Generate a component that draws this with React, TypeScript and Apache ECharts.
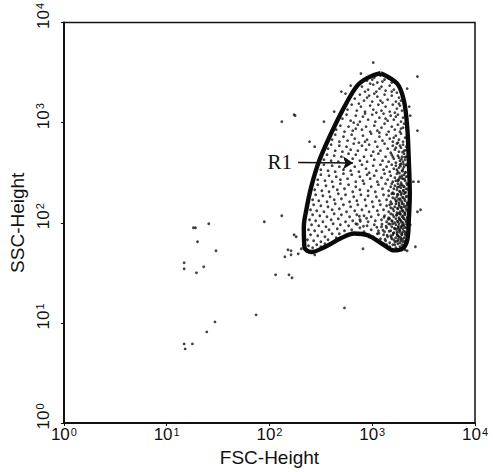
import React, { useEffect, useRef } from "react";
import * as echarts from "echarts";

// Axis decades (FSC-Height / SSC-Height, log scale)
const decadeExponents = [0, 1, 2, 3, 4];
const xAxisName = "FSC-Height";
const yAxisName = "SSC-Height";
const gateName = "R1";

// Gate R1 outline, [FSC, SSC]
const gateR1: number[][] = [
  [1210, 3120], [1750, 2450], [2030, 1670], [2190, 900], [2270, 420],
  [2320, 196], [2270, 106], [2190, 67], [1960, 55], [1625, 53],
  [1300, 60], [900, 75], [667, 78], [496, 70], [342, 57],
  [255, 51], [219, 57], [216, 91], [228, 133], [255, 228],
  [306, 420], [397, 776], [534, 1430], [719, 2355], [931, 2846],
];

// Arrow pointing into R1, [FSC, SSC]
const arrowFrom = [190, 400];
const arrowTo = [650, 395];

// Events inside / around the gate: log10(FSC), log10(SSC)
const gatedCellsLog: number[][] = [
  [2.95,3.42],[3.02,3.45],[3.08,3.47],[3.12,3.43],[3.05,3.40],[3.16,3.44],[2.98,3.39],[3.10,3.41],[3.19,3.40],[3.00,3.43],
  [2.90,3.36],[2.96,3.33],[3.01,3.38],[3.04,3.31],[3.09,3.36],[3.13,3.32],[3.17,3.37],[3.21,3.33],[3.24,3.30],[3.07,3.34],[2.93,3.31],[3.19,3.31],
  [2.83,3.24],[2.88,3.28],[2.92,3.22],[2.97,3.27],[3.00,3.21],[3.05,3.26],[3.08,3.22],[3.12,3.28],[3.15,3.23],[3.19,3.27],[3.23,3.21],[3.26,3.25],[3.28,3.22],[2.95,3.25],[3.10,3.20],[3.02,3.29],
  [2.76,3.13],[2.80,3.18],[2.85,3.12],[2.89,3.16],[2.93,3.11],[2.98,3.17],[3.01,3.13],[3.06,3.18],[3.09,3.12],[3.13,3.16],[3.17,3.11],[3.20,3.18],[3.24,3.14],[3.27,3.17],[3.29,3.12],[2.87,3.19],[3.04,3.10],[3.22,3.10],[3.26,3.19],
  [2.71,3.04],[2.75,3.08],[2.79,3.02],[2.84,3.07],[2.88,3.01],[2.91,3.06],[2.96,3.03],[3.00,3.08],[3.03,3.01],[3.07,3.05],[3.11,3.09],[3.15,3.02],[3.18,3.07],[3.21,3.03],[3.25,3.08],[3.28,3.01],[3.30,3.05],[2.82,3.00],[2.93,3.09],[3.13,3.04],[3.23,3.06],
  [2.65,2.93],[2.69,2.97],[2.73,2.91],[2.77,2.96],[2.81,2.92],[2.86,2.98],[2.90,2.93],[2.94,2.96],[2.98,2.91],[3.02,2.97],[3.05,2.92],[3.09,2.95],[3.12,2.99],[3.16,2.91],[3.19,2.96],[3.22,2.93],[3.25,2.98],[3.27,2.91],[3.30,2.95],[3.31,2.99],[2.84,2.94],[3.07,2.90],[3.28,2.94],
  [2.61,2.83],[2.64,2.88],[2.68,2.81],[2.72,2.86],[2.76,2.82],[2.80,2.88],[2.83,2.84],[2.87,2.80],[2.91,2.87],[2.95,2.83],[2.99,2.89],[3.03,2.81],[3.07,2.86],[3.10,2.82],[3.14,2.88],[3.17,2.84],[3.20,2.81],[3.23,2.87],[3.26,2.83],[3.28,2.89],[3.30,2.81],[3.32,2.85],[3.21,2.85],[3.25,2.80],[2.93,2.81],
  [2.57,2.74],[2.60,2.78],[2.64,2.72],[2.68,2.77],[2.71,2.71],[2.75,2.76],[2.79,2.73],[2.82,2.79],[2.86,2.72],[2.90,2.77],[2.94,2.73],[2.97,2.78],[3.01,2.71],[3.05,2.76],[3.08,2.72],[3.12,2.79],[3.15,2.74],[3.18,2.70],[3.20,2.77],[3.22,2.73],[3.24,2.79],[3.26,2.71],[3.28,2.75],[3.30,2.78],[3.31,2.72],[3.33,2.76],[3.27,2.77],[3.23,2.75],
  [2.53,2.63],[2.56,2.68],[2.60,2.62],[2.63,2.67],[2.67,2.61],[2.70,2.66],[2.74,2.63],[2.77,2.69],[2.81,2.64],[2.84,2.68],[2.88,2.62],[2.92,2.66],[2.95,2.61],[2.99,2.67],[3.02,2.63],[3.06,2.69],[3.10,2.62],[3.13,2.66],[3.16,2.61],[3.19,2.68],[3.21,2.64],[3.23,2.60],[3.25,2.67],[3.27,2.62],[3.29,2.66],[3.31,2.69],[3.32,2.63],[3.33,2.66],[3.26,2.65],[3.30,2.61],[3.20,2.66],
  [2.50,2.53],[2.53,2.58],[2.57,2.52],[2.61,2.57],[2.64,2.51],[2.68,2.56],[2.72,2.53],[2.76,2.59],[2.79,2.52],[2.83,2.56],[2.87,2.51],[2.90,2.58],[2.94,2.54],[2.97,2.50],[3.01,2.57],[3.04,2.52],[3.08,2.58],[3.11,2.53],[3.14,2.56],[3.17,2.51],[3.19,2.58],[3.21,2.54],[3.23,2.57],[3.25,2.51],[3.26,2.55],[3.28,2.59],[3.29,2.52],[3.31,2.56],[3.32,2.50],[3.33,2.58],[3.30,2.54],[3.27,2.58],[3.24,2.53],
  [2.47,2.43],[2.50,2.48],[2.54,2.42],[2.58,2.47],[2.61,2.41],[2.65,2.46],[2.69,2.43],[2.72,2.49],[2.76,2.44],[2.80,2.48],[2.84,2.41],[2.88,2.46],[2.91,2.42],[2.95,2.48],[2.98,2.44],[3.02,2.47],[3.05,2.41],[3.09,2.45],[3.12,2.49],[3.15,2.43],[3.18,2.47],[3.20,2.41],[3.22,2.45],[3.24,2.49],[3.25,2.42],[3.27,2.46],[3.28,2.40],[3.30,2.44],[3.31,2.48],[3.32,2.42],[3.33,2.46],[3.29,2.47],[3.26,2.44],[3.23,2.42],
  [2.44,2.33],[2.47,2.38],[2.51,2.32],[2.55,2.37],[2.58,2.31],[2.62,2.36],[2.66,2.33],[2.69,2.39],[2.73,2.34],[2.77,2.38],[2.81,2.31],[2.84,2.36],[2.88,2.33],[2.92,2.39],[2.96,2.32],[2.99,2.36],[3.03,2.31],[3.06,2.38],[3.10,2.34],[3.13,2.39],[3.16,2.32],[3.18,2.36],[3.20,2.30],[3.22,2.37],[3.24,2.33],[3.25,2.39],[3.27,2.31],[3.28,2.35],[3.29,2.38],[3.30,2.32],[3.31,2.36],[3.32,2.30],[3.33,2.34],[3.34,2.38],[3.26,2.36],[3.21,2.34],[3.19,2.39],
  [2.42,2.23],[2.45,2.28],[2.48,2.22],[2.52,2.27],[2.56,2.21],[2.59,2.26],[2.63,2.23],[2.67,2.29],[2.70,2.24],[2.74,2.28],[2.78,2.21],[2.82,2.26],[2.85,2.22],[2.89,2.28],[2.93,2.23],[2.96,2.27],[3.00,2.21],[3.04,2.26],[3.07,2.22],[3.11,2.28],[3.14,2.23],[3.16,2.27],[3.18,2.21],[3.20,2.25],[3.21,2.29],[3.23,2.22],[3.24,2.26],[3.26,2.20],[3.27,2.24],[3.28,2.28],[3.29,2.21],[3.30,2.25],[3.31,2.29],[3.32,2.22],[3.33,2.26],[3.34,2.20],[3.25,2.28],[3.22,2.24],[3.19,2.29],
  [2.40,2.13],[2.43,2.18],[2.46,2.12],[2.50,2.17],[2.53,2.11],[2.57,2.16],[2.61,2.13],[2.64,2.19],[2.68,2.14],[2.72,2.18],[2.75,2.11],[2.79,2.16],[2.83,2.12],[2.86,2.18],[2.90,2.13],[2.94,2.17],[2.97,2.11],[3.01,2.16],[3.05,2.12],[3.08,2.18],[3.11,2.13],[3.14,2.17],[3.16,2.11],[3.18,2.15],[3.19,2.19],[3.21,2.12],[3.22,2.16],[3.24,2.10],[3.25,2.14],[3.26,2.18],[3.27,2.11],[3.28,2.15],[3.29,2.19],[3.30,2.12],[3.31,2.16],[3.32,2.10],[3.33,2.14],[3.34,2.18],[3.23,2.19],[3.20,2.14],[3.17,2.18],[3.29,2.13],
  [2.39,2.03],[2.42,2.08],[2.45,2.02],[2.49,2.07],[2.52,2.01],[2.56,2.06],[2.60,2.03],[2.63,2.09],[2.67,2.04],[2.70,2.08],[2.74,2.01],[2.78,2.06],[2.81,2.02],[2.85,2.08],[2.88,2.03],[2.92,2.07],[2.96,2.01],[2.99,2.06],[3.03,2.02],[3.06,2.08],[3.09,2.03],[3.12,2.07],[3.14,2.01],[3.16,2.05],[3.18,2.09],[3.19,2.02],[3.21,2.06],[3.22,2.00],[3.23,2.04],[3.24,2.08],[3.25,2.01],[3.26,2.05],[3.27,2.09],[3.28,2.02],[3.29,2.06],[3.30,2.00],[3.31,2.04],[3.32,2.08],[3.33,2.01],[3.34,2.05],[3.20,2.08],[3.17,2.04],[3.27,2.03],[3.30,2.07],
  [2.38,1.93],[2.41,1.98],[2.44,1.92],[2.48,1.97],[2.51,1.91],[2.55,1.96],[2.58,1.93],[2.62,1.99],[2.66,1.94],[2.69,1.98],[2.73,1.92],[2.77,1.97],[2.80,1.93],[2.84,1.99],[2.88,1.95],[2.92,1.91],[2.95,1.97],[2.99,1.93],[3.02,1.98],[3.06,1.92],[3.09,1.96],[3.12,1.91],[3.14,1.95],[3.16,1.99],[3.18,1.92],[3.19,1.96],[3.21,1.90],[3.22,1.94],[3.23,1.98],[3.24,1.91],[3.25,1.95],[3.26,1.99],[3.27,1.92],[3.28,1.96],[3.29,1.90],[3.30,1.94],[3.31,1.98],[3.32,1.91],[3.33,1.95],[3.20,1.99],[3.26,1.93],[3.29,1.97],
  [2.37,1.83],[2.40,1.88],[2.43,1.82],[2.47,1.87],[2.50,1.81],[2.54,1.86],[2.57,1.83],[2.61,1.89],[2.65,1.85],[2.68,1.89],
  [2.97,1.88],[3.01,1.86],[3.05,1.89],[3.08,1.84],[3.11,1.88],[3.13,1.82],[3.15,1.86],[3.17,1.80],[3.19,1.84],[3.20,1.88],[3.22,1.81],[3.23,1.85],[3.24,1.89],[3.25,1.82],[3.26,1.86],[3.27,1.80],[3.28,1.84],[3.29,1.88],[3.30,1.81],[3.31,1.85],[3.32,1.89],[3.21,1.83],[3.25,1.87],[3.28,1.82],[3.18,1.87],
  [2.38,1.77],[2.42,1.75],[2.46,1.78],[2.50,1.76],[2.54,1.79],[3.14,1.78],[3.17,1.76],[3.20,1.78],[3.23,1.75],[3.25,1.79],[3.27,1.76],[3.29,1.78],[3.22,1.78],
];

// Extra events in the dark band along the right edge of R1 and the lower blobs: log10(FSC), log10(SSC)
const denseBandCellsLog: number[][] = [
  [3.235,1.815],[3.255,1.835],[3.275,1.855],[3.295,1.835],[3.315,1.815],[3.335,1.845],[3.245,1.875],[3.265,1.905],[3.285,1.885],[3.305,1.915],[3.325,1.875],[3.345,1.905],
  [3.235,1.935],[3.255,1.965],[3.275,1.945],[3.295,1.975],[3.315,1.955],[3.335,1.985],[3.245,2.015],[3.265,2.035],[3.285,2.005],[3.305,2.045],[3.325,2.025],[3.345,2.055],
  [3.235,2.075],[3.255,2.095],[3.275,2.085],[3.295,2.115],[3.315,2.095],[3.335,2.125],[3.245,2.145],[3.265,2.165],[3.285,2.155],[3.305,2.185],[3.325,2.165],[3.345,2.195],
  [3.235,2.215],[3.255,2.235],[3.275,2.225],[3.295,2.255],[3.315,2.235],[3.335,2.265],[3.245,2.285],[3.265,2.315],[3.285,2.295],[3.305,2.325],[3.325,2.305],[3.345,2.335],
  [3.245,2.355],[3.275,2.375],[3.305,2.365],[3.335,2.395],[3.255,2.425],[3.285,2.445],[3.315,2.435],[3.345,2.465],[3.265,2.495],[3.295,2.515],[3.325,2.505],
  [3.275,2.565],[3.305,2.585],[3.335,2.575],[3.285,2.635],[3.315,2.655],[3.295,2.705],[3.325,2.725],
  [3.125,1.835],[3.145,1.875],[3.165,1.915],[3.185,1.855],[3.205,1.895],[3.105,1.925],[3.135,1.965],[3.175,1.985],[3.215,1.945],[3.065,1.895],[3.095,1.985],[3.155,2.035],[3.195,2.015],[3.045,1.955],[3.115,2.055],
  [2.855,1.985],[2.885,2.015],[2.915,1.965],[2.945,2.045],[2.875,2.065],
];

// Events outside the gate: log10(FSC), log10(SSC)
const outlierCellsLog: number[][] = [
  [2.12,2.07],[1.95,2.01],[1.41,1.99],[1.26,1.95],[1.28,1.95],[1.30,1.81],[1.48,1.72],[2.26,1.86],[2.21,1.72],[2.28,1.69],
  [2.15,1.66],[1.17,1.60],[1.17,1.54],[1.29,1.50],[1.36,1.56],[2.06,1.48],[2.19,1.48],[2.22,1.45],[1.87,1.08],[1.47,1.01],
  [1.39,0.91],[1.17,0.79],[1.25,0.79],[1.18,0.74],[2.73,1.15],
  [3.01,3.60],[2.89,3.49],[3.44,3.46],[2.79,3.37],[2.70,3.31],[2.74,3.29],[2.25,3.07],[2.63,3.11],[2.53,3.01],[3.36,3.16],
  [3.37,3.07],[3.44,2.92],[2.39,2.81],[2.44,2.76],[2.58,2.86],[3.34,3.34],[2.12,3.01],[2.24,3.08],[3.40,2.41],[3.47,2.13],
  [2.24,1.88],[2.18,1.73],[2.21,1.68],[3.34,1.72],[2.31,1.74],[2.44,1.68],[2.91,1.74],[3.32,1.73],[3.42,1.76],[3.44,2.11],
  [3.45,2.41],[3.37,1.98],
];

const toValues = (pts: number[][]) => pts.map((p) => [Math.pow(10, p[0]), Math.pow(10, p[1])]);

const FONT = "'Liberation Sans', Arial, sans-serif";

export default function App() {
  const ref = useRef<HTMLDivElement>(null);
  useEffect(() => {
    document.body.style.margin = "0";
    const chart = echarts.init(ref.current!, null, { renderer: "svg" });
    const labelFormatter = (v: number) => {
      const e = Math.round(Math.log10(v));
      return decadeExponents.includes(e) ? `10{s|${e}}` : "";
    };
    const richSup = {
      s: { fontSize: 11, fontFamily: FONT, color: "#111", verticalAlign: "top", lineHeight: 10, padding: [0, 0, 6, 1] },
    };
    const gateLine = [...gateR1, gateR1[0]];
    const dot = { symbolSize: 2.8, itemStyle: { color: "#111" }, silent: true };
    chart.setOption({
      animation: false,
      backgroundColor: "#fff",
      grid: { left: 61, right: 18, top: 22, bottom: 49, show: true, borderColor: "#111", borderWidth: 1.5, backgroundColor: "transparent" },
      xAxis: {
        type: "log", logBase: 10, min: 1, max: 10000,
        name: xAxisName, nameLocation: "middle", nameGap: 21,
        nameTextStyle: { fontFamily: FONT, fontSize: 19, color: "#111" },
        axisLine: { lineStyle: { color: "#111", width: 2 } },
        axisTick: { show: true, length: 3, lineStyle: { color: "#111" } },
        splitLine: { show: false },
        axisLabel: { formatter: labelFormatter, fontFamily: FONT, fontSize: 17, color: "#111", margin: 3, rich: richSup },
      },
      yAxis: {
        type: "log", logBase: 10, min: 1, max: 10000,
        name: yAxisName, nameLocation: "middle", nameGap: 31, nameRotate: 90,
        nameTextStyle: { fontFamily: FONT, fontSize: 19, color: "#111" },
        axisLine: { lineStyle: { color: "#111", width: 2 } },
        axisTick: { show: true, length: 3, lineStyle: { color: "#111" } },
        splitLine: { show: false },
        axisLabel: { formatter: labelFormatter, rotate: 90, fontFamily: FONT, fontSize: 17, color: "#111", margin: 12, padding: [0, 0, 0, 13], rich: richSup },
      },
      series: [
        { type: "scatter", name: "gated", data: toValues(gatedCellsLog), ...dot },
        { type: "scatter", name: "dense", data: toValues(denseBandCellsLog), ...dot },
        { type: "scatter", name: "outside", data: toValues(outlierCellsLog), ...dot },
        {
          type: "line", name: gateName, data: gateLine, showSymbol: false, smooth: 0.35,
          lineStyle: { color: "#0a0a0a", width: 4.4 }, silent: true,
          markLine: {
            silent: true, symbol: ["none", "arrow"], symbolSize: 10,
            lineStyle: { color: "#111", width: 1.5, type: "solid" },
            label: {
              show: true, position: "start", formatter: gateName, distance: 6,
              fontFamily: "'Liberation Serif', 'Times New Roman', serif", fontSize: 21, color: "#111",
            },
            data: [[{ coord: arrowFrom }, { coord: arrowTo }]],
          },
        },
      ],
    });
    return () => chart.dispose();
  }, []);
  return <div ref={ref} style={{ position: "fixed", left: 0, top: 0, width: 493, height: 472 }} />;
}
